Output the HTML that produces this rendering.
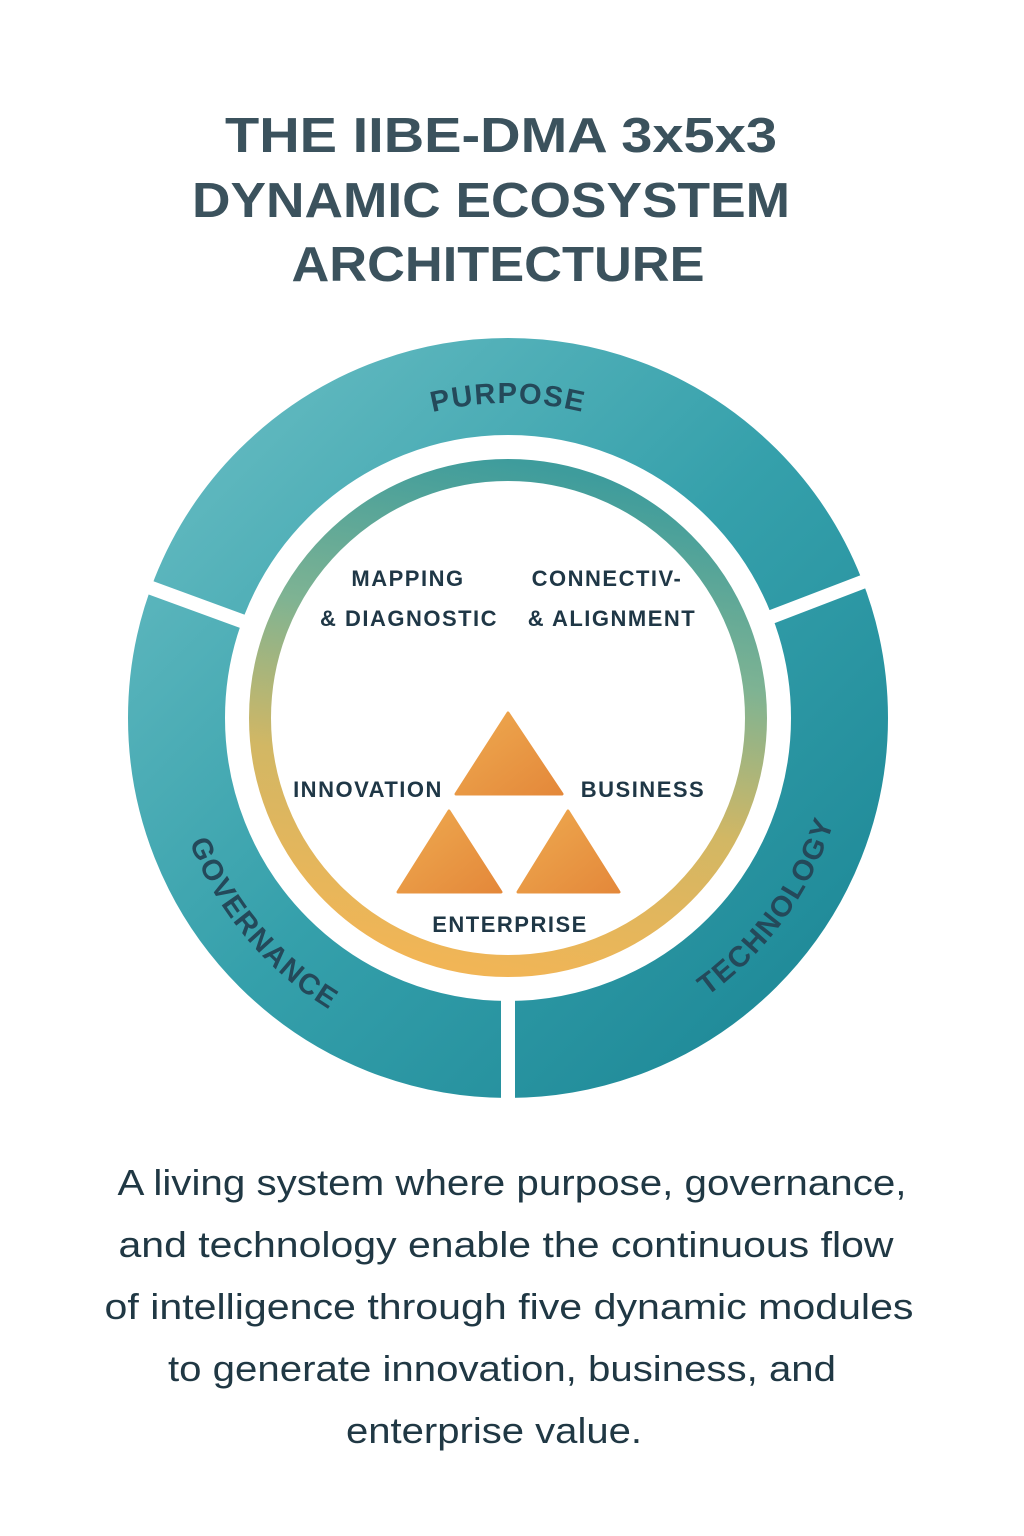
<!DOCTYPE html>
<html><head><meta charset="utf-8"><style>
html,body{margin:0;padding:0;background:#fff;}
svg{display:block;}
</style></head><body>
<svg width="1024" height="1536" viewBox="0 0 1024 1536" xmlns="http://www.w3.org/2000/svg">
<defs>
<linearGradient id="og" x1="0" y1="0" x2="1" y2="1">
<stop offset="0" stop-color="#67bcc2"/>
<stop offset="0.5" stop-color="#35a0ab"/>
<stop offset="1" stop-color="#1c8796"/>
</linearGradient>
<linearGradient id="ig" x1="0.6" y1="0" x2="0.4" y2="1">
<stop offset="0" stop-color="#3e9c9c"/>
<stop offset="0.35" stop-color="#7eb393"/>
<stop offset="0.65" stop-color="#d2b764"/>
<stop offset="1" stop-color="#f1b556"/>
</linearGradient>
<linearGradient id="tg" x1="0" y1="0" x2="1" y2="1">
<stop offset="0" stop-color="#eeaa50"/>
<stop offset="1" stop-color="#e4883a"/>
</linearGradient>
<path id="pp" d="M212,610.3 A315,315 0 0 1 804,610.3"/>
<path id="gp" d="M166,718 A342,342 0 0 0 448.6,1054.8"/>
<path id="tp" d="M567.4,1054.8 A342,342 0 0 0 846.7,670.4"/>
</defs>

<g font-family="Liberation Sans, sans-serif" font-weight="bold" fill="#3b525d" font-size="49" text-anchor="middle">
<text x="501" y="152" textLength="552" lengthAdjust="spacingAndGlyphs">THE IIBE-DMA 3x5x3</text>
<text x="491" y="217" textLength="598" lengthAdjust="spacingAndGlyphs">DYNAMIC ECOSYSTEM</text>
<text x="498" y="281" textLength="413" lengthAdjust="spacingAndGlyphs">ARCHITECTURE</text>
</g>

<circle cx="508" cy="718" r="331.5" fill="none" stroke="url(#og)" stroke-width="97"/>
<g stroke="#fff" stroke-width="14">
<line x1="254.3" y1="625.7" x2="135" y2="582"/>
<line x1="760.1" y1="621.2" x2="878" y2="576"/>
<line x1="508" y1="985" x2="508" y2="1112"/>
</g>

<g font-family="Liberation Sans, sans-serif" font-weight="bold" fill="#24495a" font-size="29" letter-spacing="1.5">
<text text-anchor="middle"><textPath href="#pp" startOffset="50%">PURPOSE</textPath></text>
<text text-anchor="middle"><textPath href="#gp" startOffset="50%">GOVERNANCE</textPath></text>
<text text-anchor="middle"><textPath href="#tp" startOffset="50%">TECHNOLOGY</textPath></text>
</g>

<circle cx="508" cy="718" r="248" fill="none" stroke="url(#ig)" stroke-width="22"/>

<g fill="url(#tg)" stroke="url(#tg)" stroke-width="3" stroke-linejoin="round">
<polygon points="508,713 562,794 456,794"/>
<polygon points="449,811 501,892 398,892"/>
<polygon points="568,811 619,892 518,892"/>
</g>

<g font-family="Liberation Sans, sans-serif" font-weight="bold" fill="#1f3746" font-size="22" text-anchor="middle" letter-spacing="1.5">
<text x="408" y="586">MAPPING</text>
<text x="409" y="626">&amp; DIAGNOSTIC</text>
<text x="607" y="586">CONNECTIV-</text>
<text x="612" y="626">&amp; ALIGNMENT</text>
<text x="368" y="797">INNOVATION</text>
<text x="643" y="797">BUSINESS</text>
<text x="510" y="932">ENTERPRISE</text>
</g>

<g font-family="Liberation Sans, sans-serif" fill="#203844" font-size="36" text-anchor="middle">
<text x="512" y="1195" textLength="789" lengthAdjust="spacingAndGlyphs">A living system where purpose, governance,</text>
<text x="506" y="1257" textLength="775" lengthAdjust="spacingAndGlyphs">and technology enable the continuous flow</text>
<text x="509" y="1319" textLength="809" lengthAdjust="spacingAndGlyphs">of intelligence through five dynamic modules</text>
<text x="502" y="1381" textLength="668" lengthAdjust="spacingAndGlyphs">to generate innovation, business, and</text>
<text x="494" y="1443" textLength="296" lengthAdjust="spacingAndGlyphs">enterprise value.</text>
</g>
</svg>
</body></html>
